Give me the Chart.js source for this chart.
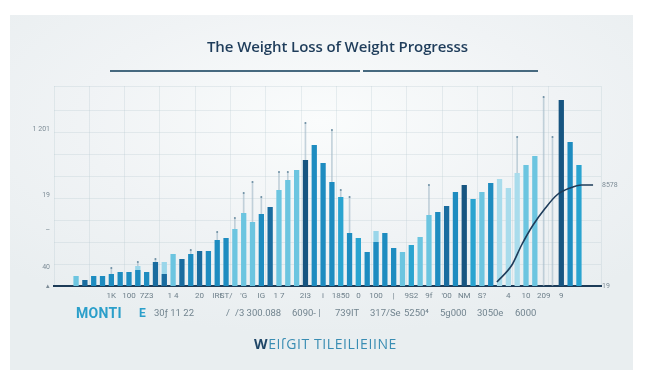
<!DOCTYPE html>
<html>
<head>
<meta charset="utf-8">
<script src="https://cdn.jsdelivr.net/npm/chart.js@4.4.1/dist/chart.umd.min.js"></script>
<style>
html,body{margin:0;padding:0;background:#ffffff;width:645px;height:383px;overflow:hidden;font-family:"Open Sans",sans-serif}
#card{position:absolute;left:10px;top:15px;width:623px;height:355px;background:radial-gradient(ellipse 70% 60% at 50% 30%, #fafcfc 0%, #f0f3f5 55%, #e9eef0 100%)}
#c{position:absolute;left:0;top:0}
.t{position:absolute;white-space:nowrap;line-height:1}
.row2{font-family:"Roboto",sans-serif;font-size:9.5px;color:#72848f;top:308px}
</style>
</head>
<body>
<div id="card"></div>
<canvas id="c" width="645" height="383"></canvas>
<div class="t" style="left:207px;top:36px;font:600 15px 'Open Sans';color:#1f3d5b;letter-spacing:-0.1px">The Weight Loss of Weight Progresss</div>
<div style="position:absolute;left:110px;top:70px;width:250px;height:2px;background:#46697f"></div>
<div style="position:absolute;left:363px;top:70px;width:175px;height:2px;background:#46697f"></div>
<div id="row2"></div>
<div class="t" style="left:254px;top:334px;font:500 14px 'Open Sans';letter-spacing:0.6px;color:#3a8db3"><span style="color:#1f4667;font-weight:700">W</span>EIſGIT TILEILIEIINE</div>
<script>
// ---- data ----
const xTickLabels = ['', '', '', '', '', '', '1K', '', '100', '', '7Z3', '', '', '1 4', '', '', '20', '', 'IRt', 'ST/', '', "'G", '', 'IG', '', '1 7', '', '', '2I3', '', 'i', '', '1850', '', '0', '', '100', '', '|', '', '9S2', '', '9f', '', "'00", '', 'NM', '', 'S?', '', '', '4', '', '10', '', '209', '', '9', '', '', '', ''];
const barValues = [null, null,
  10, 6, 10, 10, 12, 14, 14, 16, 14, 24,
  12, 32, 27, 32, 35, 35, 46, 48, 57, 73,
  64, 72, 79, 96, 106, 116, 126, 141, 123, 104,
  89, 53, 48, 34, 44, 53, 38, 34, 41, 49,
  71, 74, 80, 94, 101, 87, 94, 103, 107, 98,
  113, 121, 130, 0, 0, 186, 144, 121,
  null, null];
const backValues = [null, null,
  null, null, null, null, null, null, null, 20, null, null,
  24, null, null, null, null, null, null, null, null, null,
  null, null, null, null, null, null, null, null, null, null,
  null, null, 48, null, 55, null, null, null, null, null,
  null, null, null, null, null, null, null, null, null, null,
  null, null, null, null, null, null, null, null,
  null, null];
const whiskerValues = [null, null,
  null, null, null, null, 18, null, null, 24, null, 27,
  null, null, null, 36, null, null, 54, null, 68, 93,
  104, 89, null, 114, 114, null, 163, null, null, 156,
  96, 89, null, null, null, null, null, null, null, null,
  101, null, null, null, null, null, null, null, null, null,
  149, null, null, 189, 149, null, null, null,
  null, null];
const curvePoints = [
  {x: 50.2, y: 4}, {x: 51.9, y: 21}, {x: 53.0, y: 41}, {x: 54.3, y: 61},
  {x: 55.7, y: 78}, {x: 57.0, y: 91}, {x: 58.5, y: 98}, {x: 59.8, y: 101}, {x: 61.1, y: 101}
];
const yTickValues = [0, 19, 56, 91, 157];
const yTickLabels = ['▴', '40', '–', '19', '1 201'];
const rightTickValues = [0, 101];
const rightTickLabels = ['19', '8578'];
const monthLabels = ['30ƒ 11  22', '/', '/3 300.088', '6090- |', '739IT', '317/Se', '5250⁴', '5g000', '3050e', '6000'];

// ---- styles (kept apart from data) ----
const tone = {L:'#6cc5e0', D:'#1a6c9f', B:'#1e8cc0', T:'#2aa4d0', N:'#175581', X:'#a9dcec'};
const toneSeq = 'LDBBBBBBBD' + 'DLDBDBBBLL' + 'LBDLLLNBBB' + 'TBTBBBBLTL' + 'LBDBNTLBXX' + 'XLLXXNBT';
const barColors = [null, null].concat(toneSeq.split('').map(k => tone[k])).concat([null, null]);
const rowLefts = [154, 226, 235, 292, 335, 370, 404, 440, 477, 515];

const row = document.getElementById('row2');
row.innerHTML = '<div class="t" style="left:76px;top:305px;font:700 14px Roboto;color:#2b9fca;letter-spacing:0.3px">MONTI</div>' +
  '<div class="t" style="left:139px;top:306px;font:700 12px Roboto;color:#2b9fca">E</div>' +
  monthLabels.map((s, i) => '<div class="t row2" style="left:' + rowLefts[i] + 'px">' + s + '</div>').join('');

const gridCol = 'rgba(165,185,198,0.22)';
new Chart(document.getElementById('c'), {
  type: 'bar',
  data: {
    labels: xTickLabels,
    datasets: [
      {type: 'line', data: curvePoints, xAxisID: 'xl', yAxisID: 'y', borderColor: '#1e3c5a', borderWidth: 1.6,
        pointRadius: 0, cubicInterpolationMode: 'monotone', fill: false, order: 0},
      {data: barValues, backgroundColor: barColors, grouped: false, barPercentage: 0.6, categoryPercentage: 1, order: 1},
      {data: backValues, backgroundColor: '#9ad6ea', grouped: false, barPercentage: 0.6, categoryPercentage: 1, order: 2},
      {data: whiskerValues, backgroundColor: 'rgba(160,184,198,0.6)', grouped: false, barThickness: 1, order: 3},
      {type: 'line', data: whiskerValues, showLine: false, pointRadius: 1, pointBackgroundColor: '#6e8fa3', pointBorderWidth: 0, order: 0}
    ]
  },
  options: {
    responsive: false, animation: false, devicePixelRatio: 1,
    layout: {padding: {top: 86, left: 0, right: 0, bottom: 0}},
    plugins: {legend: {display: false}, tooltip: {enabled: false}},
    scales: {
      x: {position: 'bottom', offset: true, z: 1,
        grid: {display: false, drawTicks: false},
        border: {color: '#1c3b57', width: 2},
        ticks: {autoSkip: false, maxRotation: 0, minRotation: 0, padding: 5, color: '#6f808b', font: {family: 'Roboto', size: 8}},
        afterFit(s) { s.height = 97; }},
      xl: {type: 'linear', position: 'bottom', min: 0, max: 62, offset: false,
        ticks: {display: false, stepSize: 4}, grid: {color: gridCol, drawTicks: false, offset: false}, border: {display: false},
        afterFit(s) { s.height = 0; }},
      y: {position: 'left', min: 0, max: 200,
        afterBuildTicks(s) { s.ticks = yTickValues.map(v => ({value: v})); },
        ticks: {callback: v => yTickLabels[yTickValues.indexOf(v)], color: '#7d8c96', font: {family: 'Roboto', size: 7}, padding: 4},
        grid: {display: false, drawTicks: false}, border: {display: false},
        afterFit(s) { s.width = 54; }},
      yg: {position: 'left', min: 0, max: 200,
        ticks: {display: false, stepSize: 22}, grid: {color: gridCol, drawTicks: false}, border: {display: false},
        afterFit(s) { s.width = 0; }},
      yr: {position: 'right', min: 0, max: 200,
        afterBuildTicks(s) { s.ticks = rightTickValues.map(v => ({value: v})); },
        ticks: {callback: v => rightTickLabels[rightTickValues.indexOf(v)], color: '#7d8c96', font: {family: 'Roboto', size: 7}, padding: 1},
        grid: {display: false, drawTicks: false}, border: {display: false},
        afterFit(s) { s.width = 44; }}
    }
  }
});
</script>
</body>
</html>
